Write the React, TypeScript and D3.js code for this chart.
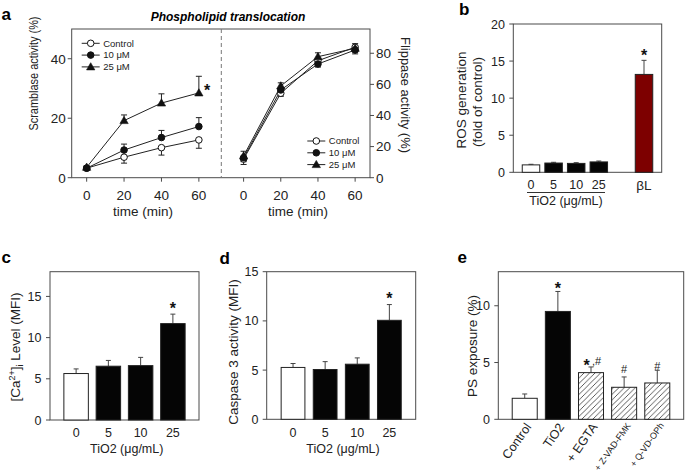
import React from 'react';
import * as d3 from 'd3';

// ---------- Data ----------
const timePoints = [0, 20, 40, 60];
const seriesNames = ['Control', '10 μM', '25 μM'];
const scramblaseControl = [3.2, 6.9, 10.1, 12.7];
const scramblaseControlErr = [0.6, 2.0, 2.5, 2.8];
const scramblase10 = [3.2, 9.3, 13.5, 17.2];
const scramblase10Err = [0.5, 2.0, 2.4, 3.0];
const scramblase25 = [3.5, 19.2, 25.1, 28.5];
const scramblase25Err = [0.5, 1.9, 3.1, 5.6];
const flippaseControl = [12.0, 54.3, 75.2, 83.9];
const flippaseControlErr = [3.5, 2.0, 2.0, 3.0];
const flippase10 = [12.8, 56.4, 73.1, 82.1];
const flippase10Err = [2.5, 2.0, 2.0, 2.5];
const flippase25 = [14.0, 59.0, 77.8, 83.2];
const flippase25Err = [3.0, 2.0, 2.5, 3.0];
const scramblaseTicks = [0, 20, 40];
const flippaseTicks = [0, 20, 40, 60, 80];

const rosCategories = ['0', '5', '10', '25', 'βL'];
const rosValues = [1.0, 1.25, 1.2, 1.4, 13.2];
const rosErrors = [0.08, 0.1, 0.1, 0.12, 1.9];
const rosTicks = [0, 5, 10, 15, 20];

const doseCategories = ['0', '5', '10', '25'];
const calciumValues = [5.64, 6.53, 6.6, 11.7];
const calciumErrors = [0.56, 0.7, 1.0, 1.15];
const calciumTicks = [0, 5, 10, 15];
const caspaseValues = [5.27, 5.06, 5.6, 10.06];
const caspaseErrors = [0.4, 0.8, 0.64, 1.6];
const caspaseTicks = [0, 5, 10, 15];

const psCategories = ['Control', 'TiO2', '+ EGTA', '+ Z-VAD-FMK', '+ Q-VD-OPh'];
const psValues = [1.85, 9.5, 4.11, 2.82, 3.2];
const psErrors = [0.38, 1.76, 0.5, 0.91, 1.12];
const psTicks = [0, 5, 10];

// ---------- Styles ----------
const FONT = 'Arial, "Liberation Sans", Helvetica, sans-serif';
const FRAME = '#4a4a4a';
const INK = '#222';

type MarkerKind = 'open' | 'filled' | 'triangle';
const markerKinds: MarkerKind[] = ['open', 'filled', 'triangle'];

function Marker({ kind, x, y }: { kind: MarkerKind; x: number; y: number }) {
  if (kind === 'triangle') {
    const p = d3.symbol(d3.symbolTriangle, 30)();
    return <path d={p || ''} transform={`translate(${x},${y + 0.6})`} fill="#111" stroke="#111" strokeWidth={0.6} />;
  }
  return <circle cx={x} cy={y} r={3.3} fill={kind === 'open' ? 'white' : '#111'} stroke="#111" strokeWidth={1} />;
}

function Star({ x, y, size = 16 }: { x: number; y: number; size?: number }) {
  return (
    <text x={x} y={y + size * 0.56} textAnchor="middle" fontSize={size} fontWeight="bold" fontFamily={FONT} fill="#111">*</text>
  );
}

function LinePanel() {
  const top = 29, bottom = 177.7, left = 71.7, mid = 221.3, right = 370;
  const xL = d3.scaleLinear().domain([-8, 72]).range([left, mid]);
  const xR = d3.scaleLinear().domain([-12, 68]).range([mid, right]);
  const yL = d3.scaleLinear().domain([0, 50]).range([bottom, top]);
  const yR = d3.scaleLinear().domain([0, 95.6]).range([bottom, top]);

  const scr = [
    { v: scramblaseControl, e: scramblaseControlErr, dir: -1 },
    { v: scramblase10, e: scramblase10Err, dir: 1 },
    { v: scramblase25, e: scramblase25Err, dir: 1 },
  ];
  const flp = [
    { v: flippaseControl, e: flippaseControlErr, dir: -1 },
    { v: flippase10, e: flippase10Err, dir: -1 },
    { v: flippase25, e: flippase25Err, dir: 1 },
  ];

  const renderSeries = (series: typeof scr, x: d3.ScaleLinear<number, number>, y: d3.ScaleLinear<number, number>, key: string) => {
    const line = d3.line<number>().x((_, i) => x(timePoints[i])).y((d) => y(d));
    return (
      <g key={key}>
        {series.map((s, si) => (
          <g key={si}>
            {s.v.map((val, i) => {
              const cx = x(timePoints[i]);
              const ye = y(val + s.dir * s.e[i]);
              return (
                <g key={i} stroke={INK} strokeWidth={1}>
                  <line x1={cx} x2={cx} y1={y(val)} y2={ye} />
                  <line x1={cx - 3} x2={cx + 3} y1={ye} y2={ye} />
                </g>
              );
            })}
            <path d={line(s.v) || ''} fill="none" stroke={INK} strokeWidth={1} />
          </g>
        ))}
        {series.map((s, si) =>
          s.v.map((val, i) => <Marker key={`${si}-${i}`} kind={markerKinds[si]} x={x(timePoints[i])} y={y(val)} />)
        )}
      </g>
    );
  };

  const legend = (lx: number, ly: number, key: string) => (
    <g key={key}>
      {seriesNames.map((n, i) => {
        const yy = ly + i * 11.8;
        return (
          <g key={n}>
            <line x1={lx} x2={lx + 18} y1={yy} y2={yy} stroke={INK} strokeWidth={1} />
            <Marker kind={markerKinds[i]} x={lx + 9} y={yy} />
            <text x={lx + 21.5} y={yy} dy="0.35em" fontSize={9.5} fontFamily={FONT} fill="#222">{n}</text>
          </g>
        );
      })}
    </g>
  );

  return (
    <g>
      <text x={1.5} y={20} fontSize={17} fontWeight="bold" fontFamily={FONT}>a</text>
      <text x={228} y={20.5} textAnchor="middle" fontSize={12} fontWeight="bold" fontStyle="italic" fontFamily={FONT}>Phospholipid translocation</text>
      <rect x={left} y={top} width={right - left} height={bottom - top} fill="none" stroke={FRAME} strokeWidth={1} />
      <line x1={mid} x2={mid} y1={top} y2={bottom} stroke="#777" strokeWidth={1} strokeDasharray="4,3" />
      {scramblaseTicks.map((t) => (
        <g key={t}>
          <line x1={left - 4} x2={left} y1={yL(t)} y2={yL(t)} stroke={FRAME} />
          <text x={left - 6} y={yL(t)} dy="0.36em" textAnchor="end" fontSize={13.5} fontFamily={FONT} fill="#222">{t}</text>
        </g>
      ))}
      {flippaseTicks.map((t) => (
        <g key={t}>
          <line x1={right} x2={right + 4} y1={yR(t)} y2={yR(t)} stroke={FRAME} />
          <text x={right + 6} y={yR(t)} dy="0.36em" textAnchor="start" fontSize={13.5} fontFamily={FONT} fill="#222">{t}</text>
        </g>
      ))}
      {timePoints.map((t) => (
        <g key={t}>
          <line x1={xL(t)} x2={xL(t)} y1={bottom} y2={bottom + 4} stroke={FRAME} />
          <text x={xL(t)} y={199.5} textAnchor="middle" fontSize={13.5} fontFamily={FONT} fill="#222">{t}</text>
          <line x1={xR(t)} x2={xR(t)} y1={bottom} y2={bottom + 4} stroke={FRAME} />
          <text x={xR(t)} y={199.5} textAnchor="middle" fontSize={13.5} fontFamily={FONT} fill="#222">{t}</text>
        </g>
      ))}
      <text x={143} y={216} textAnchor="middle" fontSize={13.5} fontFamily={FONT} fill="#222">time (min)</text>
      <text x={298} y={216} textAnchor="middle" fontSize={13.5} fontFamily={FONT} fill="#222">time (min)</text>
      <text transform="translate(34,73.5) rotate(-90)" dy="0.35em" textAnchor="middle" fontSize={12.5} fontFamily={FONT} fill="#222" textLength={114} lengthAdjust="spacingAndGlyphs">Scramblase activity (%)</text>
      <text transform="translate(405,95) rotate(90)" dy="0.35em" textAnchor="middle" fontSize={12.5} fontFamily={FONT} fill="#222" textLength={116} lengthAdjust="spacingAndGlyphs">Flippase activity (%)</text>
      {renderSeries(scr, xL, yL, 'scr')}
      {renderSeries(flp, xR, yR, 'flp')}
      <Star x={207} y={87.3} />
      {legend(81.7, 43.3, 'lg1')}
      {legend(307.3, 141, 'lg2')}
    </g>
  );
}

type BarSpec = {
  left: number; right: number; top: number; bottom: number; yMax: number;
  domain: string[]; values: number[]; errors: number[]; fills: string[];
  pIn: number; pOut: number; ticks: number[]; tickLabelX: number; skip?: string[];
};

function makeBars(spec: BarSpec) {
  const x = d3.scaleBand<string>().domain(spec.domain).range([spec.left, spec.right]).paddingInner(spec.pIn).paddingOuter(spec.pOut);
  const y = d3.scaleLinear().domain([0, spec.yMax]).range([spec.bottom, spec.top]);
  const cats = spec.domain.filter((d) => !(spec.skip || []).includes(d));
  const node = (
    <g>
      <rect x={spec.left} y={spec.top} width={spec.right - spec.left} height={spec.bottom - spec.top} fill="none" stroke={FRAME} strokeWidth={1} />
      {spec.ticks.map((t) => (
        <g key={t}>
          <line x1={spec.left - 4} x2={spec.left} y1={y(t)} y2={y(t)} stroke={FRAME} />
          <text x={spec.tickLabelX} y={y(t)} dy="0.36em" textAnchor="end" fontSize={12.5} fontFamily={FONT} fill="#222">{t}</text>
        </g>
      ))}
      {cats.map((c, i) => {
        const bx = x(c) as number;
        const bw = x.bandwidth();
        const v = spec.values[i];
        const cx = bx + bw / 2;
        const ye = y(v + spec.errors[i]);
        return (
          <g key={c}>
            <line x1={cx} x2={cx} y1={y(v)} y2={ye} stroke="#444" strokeWidth={1} />
            <line x1={cx - 2.5} x2={cx + 2.5} y1={ye} y2={ye} stroke="#444" strokeWidth={1} />
            <rect x={bx} y={y(v)} width={bw} height={spec.bottom - y(v)} fill={spec.fills[i]} stroke="#222" strokeWidth={1} />
          </g>
        );
      })}
    </g>
  );
  return { x, y, node };
}

function PanelB() {
  const domain = ['0', '5', '10', '25', 'gap', 'βL'];
  const b = makeBars({
    left: 513.3, right: 661.7, top: 24, bottom: 172.3, yMax: 20,
    domain, skip: ['gap'], values: rosValues, errors: rosErrors,
    fills: ['white', '#050505', '#050505', '#050505', '#7d0000'],
    pIn: 0.226, pOut: 0.396, ticks: rosTicks, tickLabelX: 505,
  });
  const cx = (c: string) => (b.x(c) as number) + b.x.bandwidth() / 2;
  return (
    <g>
      <text x={459} y={15} fontSize={17} fontWeight="bold" fontFamily={FONT}>b</text>
      {b.node}
      {rosCategories.map((c) => (
        <text key={c} x={cx(c)} y={c === 'βL' ? 190 : 189} textAnchor="middle" fontSize={c === 'βL' ? 13.5 : 12.5} fontFamily={FONT} fill="#222">{c}</text>
      ))}
      <line x1={527} x2={605} y1={192.5} y2={192.5} stroke="#333" strokeWidth={1} />
      <text x={566} y={205} textAnchor="middle" fontSize={12.5} fontFamily={FONT} fill="#222">TiO2 (μg/mL)</text>
      <Star x={cx('βL')} y={51.7} />
      <text transform="translate(461,100) rotate(-90)" dy="0.35em" textAnchor="middle" fontSize={13.5} fontFamily={FONT} fill="#222">ROS generation</text>
      <text transform="translate(477,102) rotate(-90)" dy="0.35em" textAnchor="middle" fontSize={13.5} fontFamily={FONT} fill="#222">(fold of control)</text>
    </g>
  );
}

function PanelC() {
  const b = makeBars({
    left: 50, right: 199, top: 271.7, bottom: 420, yMax: 18,
    domain: doseCategories, values: calciumValues, errors: calciumErrors,
    fills: ['white', '#050505', '#050505', '#050505'],
    pIn: 0.241, pOut: 0.43, ticks: calciumTicks, tickLabelX: 41.5,
  });
  const cx = (c: string) => (b.x(c) as number) + b.x.bandwidth() / 2;
  return (
    <g>
      <text x={1.5} y={263} fontSize={17} fontWeight="bold" fontFamily={FONT}>c</text>
      {b.node}
      {doseCategories.map((c) => (
        <text key={c} x={cx(c)} y={437} textAnchor="middle" fontSize={12.5} fontFamily={FONT} fill="#222">{c}</text>
      ))}
      <text x={126.7} y={453} textAnchor="middle" fontSize={12.5} fontFamily={FONT} fill="#222">TiO2 (μg/mL)</text>
      <Star x={cx('25')} y={305} />
      <text transform="translate(15,347) rotate(-90)" dy="0.35em" textAnchor="middle" fontSize={13.5} fontFamily={FONT} fill="#222">
        [Ca<tspan fontSize={9} dy="-5">2+</tspan><tspan dy="5">]</tspan><tspan fontSize={9} dy="3">i</tspan><tspan dy="-3"> Level (MFI)</tspan>
      </text>
    </g>
  );
}

function PanelD() {
  const b = makeBars({
    left: 266.7, right: 415.7, top: 271.7, bottom: 419.3, yMax: 15,
    domain: doseCategories, values: caspaseValues, errors: caspaseErrors,
    fills: ['white', '#050505', '#050505', '#050505'],
    pIn: 0.26, pOut: 0.45, ticks: caspaseTicks, tickLabelX: 258.5,
  });
  const cx = (c: string) => (b.x(c) as number) + b.x.bandwidth() / 2;
  return (
    <g>
      <text x={219.5} y={264} fontSize={17} fontWeight="bold" fontFamily={FONT}>d</text>
      {b.node}
      {doseCategories.map((c) => (
        <text key={c} x={cx(c)} y={437} textAnchor="middle" fontSize={12.5} fontFamily={FONT} fill="#222">{c}</text>
      ))}
      <text x={343} y={453} textAnchor="middle" fontSize={12.5} fontFamily={FONT} fill="#222">TiO2 (μg/mL)</text>
      <Star x={cx('25')} y={295} />
      <text transform="translate(233,352) rotate(-90)" dy="0.35em" textAnchor="middle" fontSize={13.5} fontFamily={FONT} fill="#222">Caspase 3 activity (MFI)</text>
    </g>
  );
}

function PanelE() {
  const b = makeBars({
    left: 498.3, right: 683.7, top: 271.7, bottom: 419.3, yMax: 13,
    domain: psCategories, values: psValues, errors: psErrors,
    fills: ['white', '#050505', 'url(#hatch)', 'url(#hatch)', 'url(#hatch)'],
    pIn: 0.245, pOut: 0.42, ticks: psTicks, tickLabelX: 490,
  });
  const cx = (c: string) => (b.x(c) as number) + b.x.bandwidth() / 2;
  return (
    <g>
      <text x={457.5} y={263} fontSize={17} fontWeight="bold" fontFamily={FONT}>e</text>
      {b.node}
      {psCategories.map((c, i) => (
        <text key={c} transform={`translate(${cx(c) + 7},${i < 3 ? 427 : 425.5}) rotate(-55)`} textAnchor="end" fontSize={i < 3 ? 12.5 : 9} fontFamily={FONT} fill="#222">{c}</text>
      ))}
      <Star x={cx('TiO2')} y={285} />
      <Star x={cx('+ EGTA') - 4.5} y={362} />
      <text x={cx('+ EGTA') + 1} y={365} fontSize={11} fontFamily={FONT} fill="#222">,#</text>
      <text x={cx('+ Z-VAD-FMK')} y={373} textAnchor="middle" fontSize={11} fontFamily={FONT} fill="#222">#</text>
      <text x={cx('+ Q-VD-OPh')} y={369.5} textAnchor="middle" fontSize={11} fontFamily={FONT} fill="#222">#</text>
      <text transform="translate(472,346) rotate(-90)" dy="0.35em" textAnchor="middle" fontSize={13.5} fontFamily={FONT} fill="#222">PS exposure (%)</text>
    </g>
  );
}

export default function App() {
  return (
    <svg width={685} height={474} style={{ position: 'absolute', left: 0, top: 0, background: 'white' }} fontFamily={FONT}>
      <defs>
        <pattern id="hatch" patternUnits="userSpaceOnUse" width={5.5} height={5.5}>
          <rect width={5.5} height={5.5} fill="white" />
          <path d="M-1,1 L1,-1 M0,5.5 L5.5,0 M4.5,6.5 L6.5,4.5" stroke="#333" strokeWidth={0.8} />
        </pattern>
      </defs>
      <rect width={685} height={474} fill="white" />
      <LinePanel />
      <PanelB />
      <PanelC />
      <PanelD />
      <PanelE />
    </svg>
  );
}
